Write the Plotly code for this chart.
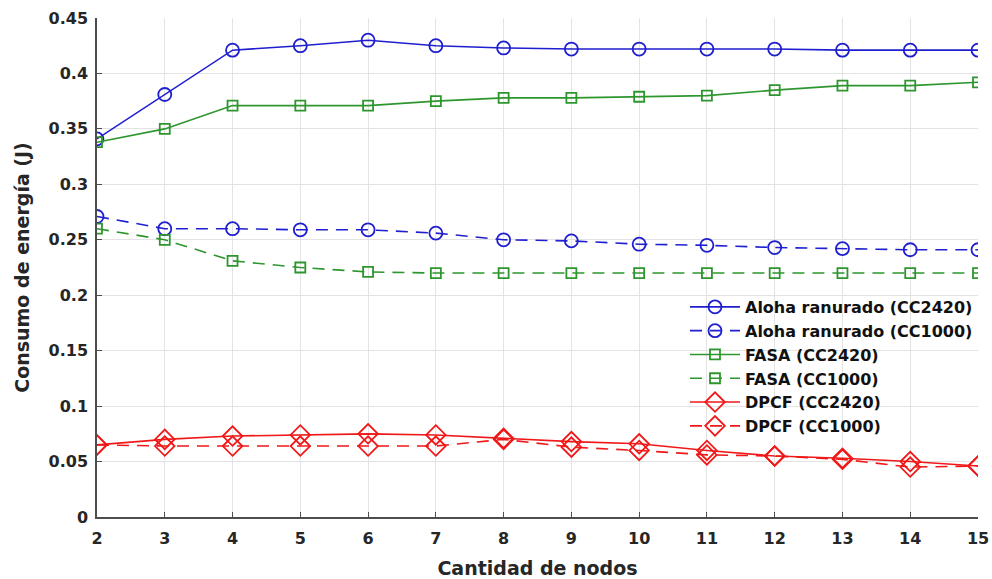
import plotly.graph_objects as go

nodos = list(range(2, 16))
aloha_cc2420 = [0.341, 0.381, 0.421, 0.425, 0.430, 0.425, 0.423, 0.422, 0.422, 0.422, 0.422, 0.421, 0.421, 0.421]
aloha_cc1000 = [0.271, 0.260, 0.260, 0.259, 0.259, 0.256, 0.250, 0.249, 0.246, 0.245, 0.243, 0.242, 0.241, 0.241]
fasa_cc2420 = [0.338, 0.350, 0.371, 0.371, 0.371, 0.375, 0.378, 0.378, 0.379, 0.380, 0.385, 0.389, 0.389, 0.392]
fasa_cc1000 = [0.260, 0.250, 0.231, 0.225, 0.221, 0.220, 0.220, 0.220, 0.220, 0.220, 0.220, 0.220, 0.220, 0.220]
dpcf_cc2420 = [0.065, 0.070, 0.073, 0.074, 0.075, 0.074, 0.071, 0.068, 0.066, 0.060, 0.055, 0.053, 0.050, 0.046]
dpcf_cc1000 = [0.065, 0.064, 0.064, 0.064, 0.064, 0.064, 0.070, 0.063, 0.060, 0.056, 0.055, 0.052, 0.045, 0.046]
y_ticks = [0, 0.05, 0.1, 0.15, 0.2, 0.25, 0.3, 0.35, 0.4, 0.45]
y_labels = ["0", "0.05", "0.1", "0.15", "0.2", "0.25", "0.3", "0.35", "0.4", "0.45"]

BLUE = "#1f1fd0"
GREEN = "#2e962e"
RED = "#f01818"
DASH = "12px,8px"

series = [
    ("Aloha ranurado (CC2420)", aloha_cc2420, BLUE, "solid", "circle-open", 13),
    ("Aloha ranurado (CC1000)", aloha_cc1000, BLUE, DASH, "circle-open", 13),
    ("FASA (CC2420)", fasa_cc2420, GREEN, "solid", "square-open", 10),
    ("FASA (CC1000)", fasa_cc1000, GREEN, DASH, "square-open", 10),
    ("DPCF (CC2420)", dpcf_cc2420, RED, "solid", "diamond-open", 15),
    ("DPCF (CC1000)", dpcf_cc1000, RED, DASH, "diamond-open", 15),
]

fig = go.Figure()
for name, ys, col, dash, sym, size in series:
    fig.add_trace(go.Scatter(
        x=nodos, y=ys, name=name, mode="lines+markers",
        line=dict(color=col, width=1.6, dash=dash),
        marker=dict(symbol=sym, size=size, color=col, line=dict(width=1.8, color=col)),
    ))

FF = "DejaVu Sans, Verdana, sans-serif"
TXT = "#262626"
fig.update_layout(
    width=992, height=579,
    margin=dict(l=97, r=14, t=18, b=62),
    paper_bgcolor="white", plot_bgcolor="white",
    font=dict(family=FF, color=TXT, size=16),
    showlegend=True,
    legend=dict(
        x=1.0, xanchor="right", y=0.455, yanchor="top",
        bgcolor="rgba(255,255,255,0)", borderwidth=0,
        font=dict(family=FF, size=16, color="#111111", weight="bold"),
        tracegroupgap=0, itemwidth=50,
    ),
    xaxis=dict(
        range=[2, 15], tickmode="array", tickvals=nodos, automargin=False,
        showgrid=True, gridcolor="#e3e3e3", gridwidth=1,
        showline=True, linecolor="#4d4d4d", linewidth=1.5,
        ticks="inside", ticklen=5, tickcolor="#4d4d4d", ticklabelstandoff=6,
        tickfont=dict(family=FF, size=16, weight="bold", color=TXT),
        title=dict(text="Cantidad de nodos", font=dict(family=FF, size=19, weight="bold", color=TXT), standoff=16),
        zeroline=False,
    ),
    yaxis=dict(
        range=[0, 0.45], tickmode="array", tickvals=y_ticks, ticktext=y_labels, automargin=False,
        showgrid=True, gridcolor="#e3e3e3", gridwidth=1,
        showline=True, linecolor="#4d4d4d", linewidth=1.5,
        ticks="inside", ticklen=5, tickcolor="#4d4d4d", ticklabelstandoff=4,
        tickfont=dict(family=FF, size=16, weight="bold", color=TXT),
        title=dict(text="Consumo de energía (J)", font=dict(family=FF, size=19, weight="bold", color=TXT), standoff=14),
        zeroline=False,
    ),
)

fig.write_html(
    "out.html",
    config={"displayModeBar": False},
    post_script="document.body.style.margin='0';document.body.style.overflow='hidden';",
)
